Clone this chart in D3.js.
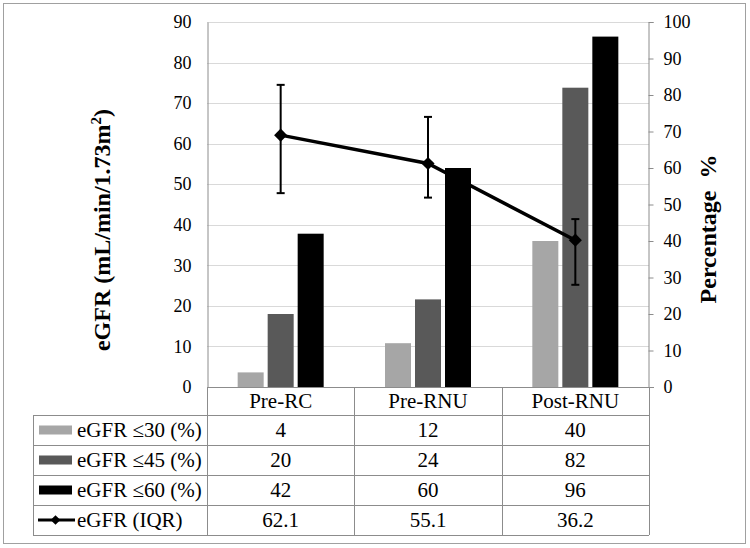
<!DOCTYPE html>
<html><head><meta charset="utf-8">
<script src="https://cdn.jsdelivr.net/npm/d3@7"></script>
<style>
html,body{margin:0;padding:0;background:#fff;}
svg text{font-family:"Liberation Serif","Times New Roman","DejaVu Serif",serif !important;fill:#000;}
</style></head>
<body>
<svg id="chart" width="750" height="548" font-family="Liberation Serif"></svg>
<script>
// ---- data ----
const categories = ["Pre-RC", "Pre-RNU", "Post-RNU"];
const seriesNames = ["eGFR \u226430 (%)", "eGFR \u226445 (%)", "eGFR \u226460 (%)"];
const le30 = [4, 12, 40];
const le45 = [20, 24, 82];
const le60 = [42, 60, 96];
const egfrMedian = [62.1, 55.1, 36.2];
const iqrLow = [47.8, 46.7, 25.2];
const iqrHigh = [74.5, 66.6, 41.4];
const lineName = "eGFR (IQR)";
const leftTicks = [0, 10, 20, 30, 40, 50, 60, 70, 80, 90];
const rightTicks = [0, 10, 20, 30, 40, 50, 60, 70, 80, 90, 100];
const barColors = ["#a6a6a6", "#595959", "#000000"];

const svg = d3.select("#chart");
const plot = {x0: 207, x1: 649, y0: 22, y1: 387};

// outer border
svg.append("rect").attr("x", 3.5).attr("y", 3.5).attr("width", 742).attr("height", 540)
  .attr("fill", "#fff").attr("stroke", "#a0a0a0").attr("stroke-width", 1);

const x = d3.scaleBand().domain(categories).range([plot.x0, plot.x1]);
const yL = d3.scaleLinear().domain([0, 90]).range([plot.y1, plot.y0]);
const yR = d3.scaleLinear().domain([0, 100]).range([plot.y1, plot.y0]);

// gridlines
svg.append("g").selectAll("line").data(leftTicks.filter(d => d > 0)).join("line")
  .attr("x1", plot.x0).attr("x2", plot.x1)
  .attr("y1", d => Math.round(yL(d)) + 0.5).attr("y2", d => Math.round(yL(d)) + 0.5)
  .attr("stroke", "#d9d9d9").attr("stroke-width", 1);

// bars
const barSeries = [le30, le45, le60];
const barW = 26, barStep = 30;
barSeries.forEach((vals, si) => {
  svg.append("g").selectAll("rect").data(categories).join("rect")
    .attr("x", (c) => x(c) + x.bandwidth() / 2 + (si - 1) * barStep - barW / 2)
    .attr("y", (c, i) => yR(vals[i]))
    .attr("width", barW)
    .attr("height", (c, i) => yR(0) - yR(vals[i]))
    .attr("fill", barColors[si]);
});

// left axis
const axL = d3.axisLeft(yL).tickValues(leftTicks).tickSize(0).tickPadding(16);
const gL = svg.append("g").attr("transform", `translate(${plot.x0 + 0.5},0)`).call(axL)
  .attr("font-family", "Liberation Serif").attr("font-size", 18);
gL.select(".domain").attr("stroke", "#8c8c8c");

// right axis
const axR = d3.axisRight(yR).tickValues(rightTicks).tickSize(5).tickPadding(10);
const gR = svg.append("g").attr("transform", `translate(${plot.x1 - 0.5},0)`).call(axR)
  .attr("font-family", "Liberation Serif").attr("font-size", 18);
gR.select(".domain").attr("stroke", "#8c8c8c");
gR.selectAll(".tick line").attr("stroke", "#8c8c8c");

// x axis baseline
svg.append("line").attr("x1", plot.x0).attr("x2", plot.x1 + 5)
  .attr("y1", plot.y1 + 0.5).attr("y2", plot.y1 + 0.5).attr("stroke", "#8c8c8c");

// error bars
const cx = c => x(c) + x.bandwidth() / 2;
const eb = svg.append("g").attr("stroke", "#000").attr("stroke-width", 2);
categories.forEach((c, i) => {
  eb.append("line").attr("x1", cx(c)).attr("x2", cx(c)).attr("y1", yL(iqrLow[i])).attr("y2", yL(iqrHigh[i]));
  eb.append("line").attr("x1", cx(c) - 4).attr("x2", cx(c) + 4).attr("y1", yL(iqrLow[i])).attr("y2", yL(iqrLow[i]));
  eb.append("line").attr("x1", cx(c) - 4).attr("x2", cx(c) + 4).attr("y1", yL(iqrHigh[i])).attr("y2", yL(iqrHigh[i]));
});

// line
const line = d3.line().x((d, i) => cx(categories[i])).y(d => yL(d));
svg.append("path").datum(egfrMedian).attr("d", line)
  .attr("fill", "none").attr("stroke", "#000").attr("stroke-width", 3.5);
const diamond = d3.symbol().type(d3.symbolDiamond2).size(110);
svg.append("g").selectAll("path").data(egfrMedian).join("path")
  .attr("d", diamond)
  .attr("transform", (d, i) => `translate(${cx(categories[i])},${yL(d)})`)
  .attr("fill", "#000");

// axis titles
const tL = svg.append("text").attr("transform", "translate(110,230) rotate(-90)")
  .attr("text-anchor", "middle").style("font-size", "24px").style("font-weight", "bold");
tL.append("tspan").text("eGFR (mL/min/1.73m");
tL.append("tspan").attr("dy", -9).style("font-size", "15px").text("2");
tL.append("tspan").attr("dy", 9).text(")");
svg.append("text").attr("transform", "translate(716,229) rotate(-90)")
  .attr("text-anchor", "middle").style("font-size", "24px").style("font-weight", "bold")
  .style("white-space", "pre")
  .text("Percentage  %");

// data table
const rowsY = [387, 415, 445, 475, 505, 535];
const tableLeft = 33;
const tbl = svg.append("g").attr("stroke", "#8c8c8c").attr("stroke-width", 1).attr("fill", "none");
rowsY.forEach((yy, i) => {
  tbl.append("line").attr("x1", i === 0 ? plot.x0 : tableLeft).attr("x2", plot.x1)
    .attr("y1", yy + 0.5).attr("y2", yy + 0.5);
});
const colX = [plot.x0, x(categories[1]), x(categories[2]), plot.x1];
colX.forEach(xx => {
  tbl.append("line").attr("x1", Math.round(xx) + 0.5).attr("x2", Math.round(xx) + 0.5)
    .attr("y1", rowsY[0]).attr("y2", rowsY[5]);
});
tbl.append("line").attr("x1", tableLeft + 0.5).attr("x2", tableLeft + 0.5)
  .attr("y1", rowsY[1]).attr("y2", rowsY[5]);

// category labels
svg.append("g").selectAll("text").data(categories).join("text")
  .attr("x", d => cx(d)).attr("y", (rowsY[0] + rowsY[1]) / 2 + 7)
  .attr("text-anchor", "middle").style("font-size", "21px").text(d => d);

// table rows
const tableRows = [le30, le45, le60, egfrMedian];
const rowLabels = [...seriesNames, lineName];
tableRows.forEach((vals, r) => {
  const yMid = (rowsY[r + 1] + rowsY[r + 2]) / 2;
  svg.append("g").selectAll("text").data(vals).join("text")
    .attr("x", (d, i) => cx(categories[i])).attr("y", yMid + 7)
    .attr("text-anchor", "middle").style("font-size", "21px")
    .text(d => r === 3 ? d.toFixed(1) : d);
  svg.append("text").attr("x", 77).attr("y", yMid + 7).style("font-size", "21px").text(rowLabels[r]);
  if (r < 3) {
    svg.append("rect").attr("x", 39).attr("y", yMid - 4.5).attr("width", 33).attr("height", 9)
      .attr("fill", barColors[r]);
  } else {
    svg.append("line").attr("x1", 38).attr("x2", 75).attr("y1", yMid).attr("y2", yMid)
      .attr("stroke", "#000").attr("stroke-width", 3);
    svg.append("path").attr("d", d3.symbol().type(d3.symbolDiamond2).size(60))
      .attr("transform", `translate(55.5,${yMid})`).attr("fill", "#000");
  }
});
</script>
</body></html>
